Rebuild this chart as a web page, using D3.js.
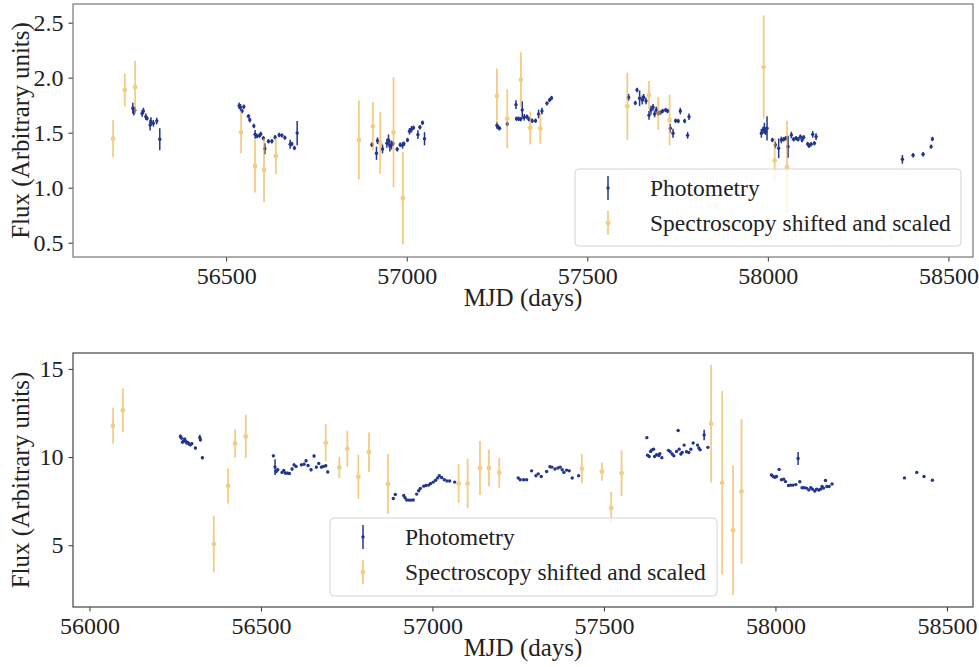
<!DOCTYPE html>
<html><head><meta charset="utf-8">
<script src="https://cdn.jsdelivr.net/npm/d3@7"></script>
<style>
html,body{margin:0;padding:0;background:#fff;}
text{font-family:"Liberation Serif","DejaVu Serif",serif;fill:#222;}
</style></head>
<body><svg id="c" width="979" height="667"></svg>
<script>
// ---------- DATA ----------
const xTicksTop = [56500, 57000, 57500, 58000, 58500];
const yTicksTop = [0.5, 1.0, 1.5, 2.0, 2.5];
const xTicksBottom = [56000, 56500, 57000, 57500, 58000, 58500];
const yTicksBottom = [5, 10, 15];
const legendLabels = ["Photometry", "Spectroscopy shifted and scaled"];
const xLabel = "MJD (days)";
const yLabel = "Flux (Arbitrary units)";

// top panel photometry
const topPhotMJD = [56241.6,56244.3,56247,56267.3,56270.9,56277.6,56281,56289.5,56292,56298.6,56308,56316.3,
 56536,56539.6,56544.3,56549,56561.8,56565.6,56576.7,56580.3,56585,56592.2,56596,56603.3,56607.2,56617.2,56626.6,56635.7,56646.8,56654.3,56662.6,56677.3,56682,56689.2,56696.7,
 56903.6,56916.3,56919.1,56933,56945.1,56949.6,56953.4,56957.9,56961.8,56973.7,56982,56988.4,56992.2,57002.2,57007.7,57013.3,57018.8,57031,57036.5,57043.8,57049.3,
 57249.8,57253.4,57257,57278.4,57302.5,57304,57309.7,57315.2,57319.9,57325.5,57333,57338.5,57347.6,57356.8,57365.1,57374.5,57388.3,57395.5,57401.1,
 57614.4,57633,57637.7,57644.9,57652.3,57656,57662.6,57670.9,57676.4,57682,57686.4,57691.1,57696.6,57702.2,57708.6,57716.9,57722.4,57729.9,57737.4,57744.6,57752,57757.6,57769.5,57777.8,57781.7,
 57982,57986.7,57990.3,57993.9,57997.7,58012.4,58020.7,58029.9,58037.4,58043.7,58049.3,58055.9,58065.1,58071.4,58078.1,58083.6,58090,58094.7,58099.1,58110.2,58114.1,58119.6,58124.1,58128.8,58133.5,
 58372.5,58402.1,58429.8,58452,58455.6];
const topPhotFlux = [1.722,1.697,1.704,1.676,1.697,1.645,1.63,1.57,1.60,1.585,1.606,1.44,
 1.745,1.731,1.697,1.736,1.649,1.615,1.561,1.485,1.47,1.473,1.488,1.449,1.355,1.422,1.422,1.458,1.479,1.476,1.455,1.395,1.397,1.361,1.497,
 1.391,1.313,1.427,1.352,1.404,1.434,1.379,1.388,1.40,1.349,1.391,1.385,1.40,1.434,1.513,1.531,1.545,1.482,1.549,1.591,1.445,
 1.567,1.549,1.54,1.579,1.755,1.627,1.627,1.622,1.706,1.64,1.645,1.622,1.609,1.609,1.67,1.697,1.767,1.797,1.815,
 1.822,1.77,1.888,1.813,1.797,1.822,1.788,1.658,1.706,1.731,1.67,1.706,1.676,1.682,1.697,1.706,1.697,1.54,1.495,1.609,1.606,1.697,1.606,1.476,1.645,
 1.495,1.525,1.54,1.509,1.54,1.434,1.388,1.358,1.434,1.44,1.449,1.373,1.479,1.44,1.449,1.44,1.464,1.434,1.458,1.397,1.382,1.395,1.485,1.404,1.464,
 1.258,1.295,1.304,1.373,1.443];
const topPhotErr = [0.05,0.04,0.03,0.03,0.03,0.03,0.02,0.05,0.04,0.03,0.03,0.1,
 0.03,0.03,0.02,0.02,0.02,0.02,0.02,0.04,0.02,0.02,0.02,0.02,0.05,0.02,0.02,0.02,0.02,0.02,0.02,0.04,0.02,0.02,0.11,
 0.02,0.06,0.03,0.04,0.04,0.05,0.05,0.04,0.02,0.02,0.02,0.03,0.02,0.02,0.03,0.03,0.02,0.04,0.02,0.02,0.06,
 0.03,0.02,0.02,0.02,0.04,0.02,0.02,0.02,0.08,0.03,0.02,0.02,0.02,0.02,0.04,0.03,0.02,0.02,0.02,
 0.03,0.02,0.02,0.07,0.04,0.03,0.03,0.04,0.04,0.03,0.03,0.03,0.02,0.02,0.02,0.02,0.02,0.04,0.04,0.02,0.02,0.03,0.02,0.03,0.03,
 0.04,0.03,0.05,0.03,0.11,0.02,0.03,0.09,0.03,0.02,0.02,0.1,0.03,0.02,0.02,0.02,0.02,0.02,0.02,0.02,0.02,0.02,0.03,0.02,0.03,
 0.04,0.02,0.02,0.02,0.02];

// top panel spectroscopy
const topSpecMJD = [56187,56219.4,56248,56541.5,56580,56605,56637.6,56867.6,56906.3,56926.6,56963.5,56989.5,
 57249.8,57278.4,57316.3,57342,57370,57610.8,57670.9,57696.6,57728,57988.4,58018.9,58053];
const topSpecFlux = [1.445,1.888,1.913,1.503,1.197,1.16,1.288,1.434,1.558,1.406,1.503,0.904,
 1.834,1.627,1.982,1.543,1.54,1.74,1.84,1.676,1.615,2.097,1.249,1.188];
const topSpecErr = [0.17,0.15,0.24,0.19,0.24,0.29,0.165,0.36,0.22,0.28,0.5,0.42,
 0.25,0.27,0.25,0.15,0.14,0.305,0.13,0.15,0.23,0.47,0.2,0.42];

// bottom panel photometry
const botPhotMJD = [56265.2,56268.1,56271,56275.1,56278,56280.9,56283.8,56286.7,56290.5,56294.3,56298.4,56308.9,56321.7,56323.5,56329.3,
 56536.2,56541.1,56544,56549,56561.5,56566.5,56571.1,56577,56582.8,56590.7,56596.5,56602.3,56617.8,56625.6,56631.5,56637.3,56646,56654.8,56661.5,56668.5,56676.1,56681.9,56688.9,56694.7,
 56885.9,56891.7,56916.2,56920,56924.9,56931.6,56937.4,56944.1,56954,56959.9,56964.5,56974.4,56981.2,56989,56994.8,57002.4,57009.4,57015.2,57019.9,57026.9,57034.5,57042.3,57050.2,57064.8,
 57250.1,57255.9,57265.8,57274.6,57289.1,57301.7,57308.4,57317.1,57332.9,57342.5,57348.3,57357.1,57365.8,57372.5,57378.3,57383.3,57391.1,57398.7,57407.5,57426.1,
 57625.1,57627.2,57631.8,57635.9,57639.7,57644.7,57647.6,57653.4,57660.1,57663,57668.9,57688.4,57693,57698.9,57703.8,57711.7,57716.4,57719.3,57724.2,57728,57733.8,57740.8,57747.5,57753.4,57760.1,57772.9,57776.7,57780.5,57792.1,57802.9,
 57988.5,57993.2,57999,58003.1,58010.7,58017.6,58024.4,58029.3,58038.1,58044.8,58051.5,58059.3,58066,58071,58077.6,58083.5,58090.5,58097.2,58103,58108,58114.7,58119.7,58126.4,58131.3,58136,58140.1,58145.9,58149.7,58156.4,58165.1,
 58376.1,58411.9,58433.2,58457.6];
const botPhotFlux = [11.17,11.08,10.85,10.93,11.02,10.89,10.8,10.83,10.74,10.7,10.76,10.51,11.11,10.98,9.96,
 10.07,9.43,9.18,9.28,9.13,9.24,9.09,9.09,9.07,9.32,9.56,9.47,9.56,9.6,9.79,9.52,9.28,10.06,9.43,9.64,9.43,9.47,9.51,9.16,
 7.65,7.88,7.82,7.69,7.57,7.56,7.56,7.57,7.9,8.09,8.22,8.35,8.39,8.41,8.5,8.58,8.69,8.82,8.94,8.84,8.71,8.65,8.64,8.58,
 8.81,8.71,8.71,8.71,9.22,8.94,9.05,8.9,9.18,9.45,9.43,9.32,9.38,9.43,9.28,9.13,9.26,9.22,8.81,8.94,
 11.1,10.11,10.03,10.32,10.4,10.45,10.03,10.13,10.09,10.19,9.96,10.38,10.3,10.17,10.07,10.32,11.51,10.45,10.17,10.26,10.68,10.3,10.26,10.45,10.8,10.68,10.51,10.41,11.25,10.55,
 8.98,8.9,8.86,8.9,9.3,8.71,8.75,8.61,8.39,8.41,8.41,8.44,9.92,8.6,8.26,8.26,8.24,8.14,8.27,8.18,8.07,8.18,8.13,8.18,8.33,8.24,8.67,8.33,8.33,8.47,
 8.82,9.13,8.9,8.69];
const botPhotErr = [0.12,0.08,0.08,0.15,0.08,0.08,0.08,0.08,0.08,0.08,0.08,0.08,0.15,0.1,0.08,
 0.08,0.45,0.1,0.08,0.08,0.08,0.08,0.08,0.08,0.08,0.08,0.08,0.08,0.08,0.08,0.08,0.08,0.08,0.08,0.08,0.08,0.08,0.08,0.08,
 0.05,0.05,0.05,0.05,0.05,0.05,0.05,0.05,0.05,0.05,0.05,0.05,0.05,0.05,0.05,0.05,0.05,0.05,0.05,0.05,0.05,0.05,0.05,0.05,
 0.05,0.05,0.05,0.05,0.05,0.05,0.05,0.05,0.05,0.05,0.05,0.05,0.05,0.05,0.05,0.05,0.05,0.05,0.05,0.05,
 0.06,0.06,0.06,0.06,0.06,0.06,0.06,0.06,0.06,0.06,0.06,0.06,0.06,0.06,0.06,0.06,0.06,0.06,0.06,0.06,0.06,0.06,0.06,0.06,0.06,0.06,0.06,0.06,0.3,0.06,
 0.06,0.06,0.06,0.06,0.06,0.06,0.06,0.06,0.06,0.06,0.06,0.06,0.37,0.06,0.06,0.06,0.06,0.06,0.06,0.06,0.06,0.06,0.06,0.06,0.06,0.06,0.06,0.06,0.06,0.06,
 0.05,0.05,0.05,0.05];

// bottom panel spectroscopy
const botSpecMJD = [56069,56097.3,56362.5,56404.2,56424.6,56455.7,56688.9,56728.5,56751.8,56783.9,56815,56870.4,
 57076.4,57102.6,57138.5,57164.7,57194.7,57435.6,57494,57521.1,57551.4,57812.5,57844.6,57876.6,57901];
const botSpecFlux = [11.78,12.65,5.07,8.37,10.77,11.17,10.81,9.41,10.47,8.88,10.28,8.48,
 8.5,8.5,9.38,9.38,9.11,9.34,9.18,7.12,9.09,11.89,8.54,5.85,8.05];
const botSpecErr = [1.02,1.24,1.6,1.0,0.8,1.23,1.06,0.6,1.02,1.25,1.12,1.7,
 1.1,1.4,1.53,1.04,0.85,0.83,0.52,0.9,1.3,3.33,5.2,3.67,4.1];

// ---------- STYLE ----------
const BLUE = "#22358f";
const ORANGE = "rgb(236,172,52)";
const ORANGE_OP = 0.6;
const FONT = 23.5;
const TICKFONT = 24;
const YLFONT = 25;

const svg = d3.select("#c");

function zip(a,b,c){ return a.map((v,i)=>({x:v,y:b[i],e:c[i]})); }

function drawPanel(p){
  const x = d3.scaleLinear().domain(p.xDomain).range([p.left, p.right]);
  const y = d3.scaleLinear().domain(p.yDomain).range([p.bottom, p.top]);
  const g = svg.append("g");

  // photometry
  const phot = zip(p.phot[0], p.phot[1], p.phot[2]);
  const pg = g.append("g");
  pg.selectAll("line").data(phot).join("line")
    .attr("x1", d=>x(d.x)).attr("x2", d=>x(d.x))
    .attr("y1", d=>y(d.y - d.e)).attr("y2", d=>y(d.y + d.e))
    .attr("stroke", BLUE).attr("stroke-width", 1.5);
  pg.selectAll("circle").data(phot).join("circle")
    .attr("cx", d=>x(d.x)).attr("cy", d=>y(d.y)).attr("r", 1.7).attr("fill", BLUE);

  // spectroscopy
  const spec = zip(p.spec[0], p.spec[1], p.spec[2]);
  const sg = g.append("g").attr("opacity", ORANGE_OP);
  sg.selectAll("line").data(spec).join("line")
    .attr("x1", d=>x(d.x)).attr("x2", d=>x(d.x))
    .attr("y1", d=>y(d.y - d.e)).attr("y2", d=>y(d.y + d.e))
    .attr("stroke", ORANGE).attr("stroke-width", 1.8);
  sg.selectAll("circle").data(spec).join("circle")
    .attr("cx", d=>x(d.x)).attr("cy", d=>y(d.y)).attr("r", 2.4).attr("fill", ORANGE);

  // axes
  const xa = g.append("g").attr("transform", `translate(0,${p.bottom})`)
    .call(d3.axisBottom(x).tickValues(p.xTicks).tickFormat(d3.format("d")).tickSize(4.5).tickSizeOuter(0).tickPadding(5));
  const ya = g.append("g").attr("transform", `translate(${p.left},0)`)
    .call(d3.axisLeft(y).tickValues(p.yTicks).tickFormat(p.yFmt).tickSize(4.5).tickSizeOuter(0).tickPadding(5));
  [xa, ya].forEach(a=>{
    a.select(".domain").remove();
    a.selectAll("line").attr("stroke", "#333").attr("stroke-width", 1);
    a.selectAll("text").attr("font-size", TICKFONT).attr("fill", "#222")
      .style("font-family", '"Liberation Serif",serif');
  });
  // frame
  g.append("rect").attr("x", p.left).attr("y", p.top)
    .attr("width", p.right - p.left).attr("height", p.bottom - p.top)
    .attr("fill", "none").attr("stroke", p.frameColor).attr("stroke-width", 1.2);

  // labels
  g.append("text").attr("x", (p.left + p.right)/2).attr("y", p.xLabelY)
    .attr("text-anchor", "middle").attr("font-size", YLFONT).text(xLabel);
  g.append("text").attr("transform", `translate(${p.yLabelX},${(p.top + p.bottom)/2}) rotate(-90)`)
    .attr("text-anchor", "middle").attr("font-size", YLFONT).text(yLabel);

  // legend
  const L = p.legend;
  const lg = g.append("g");
  lg.append("rect").attr("x", L.x).attr("y", L.y).attr("width", L.w).attr("height", L.h)
    .attr("rx", 4).attr("fill", "#fff").attr("fill-opacity", 0.8)
    .attr("stroke", "#d4d4d4").attr("stroke-width", 1);
  const rows = [L.y + 19, L.y + 54];
  lg.append("line").attr("x1", L.mx).attr("x2", L.mx).attr("y1", rows[0]-12).attr("y2", rows[0]+12)
    .attr("stroke", BLUE).attr("stroke-width", 1.5);
  lg.append("circle").attr("cx", L.mx).attr("cy", rows[0]).attr("r", 1.7).attr("fill", BLUE);
  const le = lg.append("g").attr("opacity", ORANGE_OP);
  le.append("line").attr("x1", L.mx).attr("x2", L.mx).attr("y1", rows[1]-12).attr("y2", rows[1]+12)
    .attr("stroke", ORANGE).attr("stroke-width", 1.8);
  le.append("circle").attr("cx", L.mx).attr("cy", rows[1]).attr("r", 2.4).attr("fill", ORANGE);
  legendLabels.forEach((t,i)=>{
    lg.append("text").attr("x", L.tx).attr("y", rows[i]).attr("dy", "0.35em")
      .attr("font-size", FONT).text(t);
  });
}

drawPanel({
  xDomain:[56076, 58568], yDomain:[0.37, 2.67],
  left:73, right:973, top:4, bottom:257,
  xTicks:xTicksTop, yTicks:yTicksTop, yFmt:d3.format(".1f"),
  phot:[topPhotMJD, topPhotFlux, topPhotErr],
  spec:[topSpecMJD, topSpecFlux, topSpecErr],
  xLabelY:306, yLabelX:29, frameColor:"#777",
  legend:{x:575, y:169, w:386, h:77, mx:608, tx:650}
});
drawPanel({
  xDomain:[55952, 58576], yDomain:[1.5, 15.9],
  left:73, right:973, top:353, bottom:607,
  xTicks:xTicksBottom, yTicks:yTicksBottom, yFmt:d3.format("d"),
  phot:[botPhotMJD, botPhotFlux, botPhotErr],
  spec:[botSpecMJD, botSpecFlux, botSpecErr],
  xLabelY:656, yLabelX:29, frameColor:"#444",
  legend:{x:330, y:518, w:387, h:78, mx:363, tx:405}
});
</script></body></html>
